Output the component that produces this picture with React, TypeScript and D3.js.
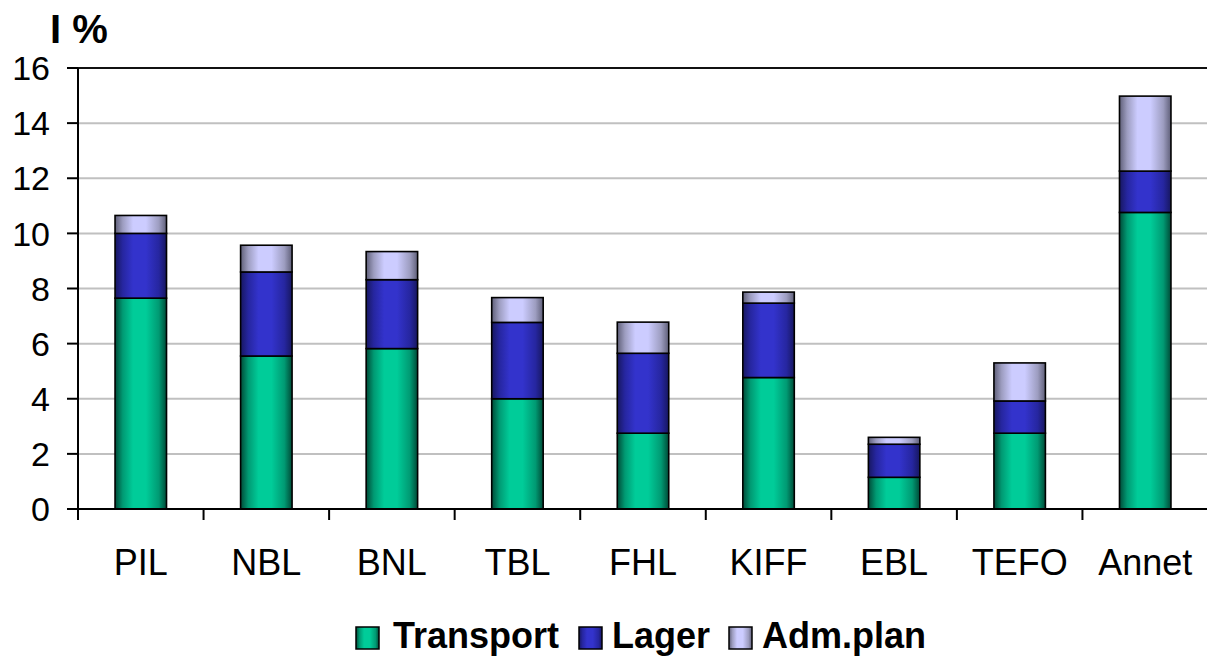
import React from "react";
import * as d3 from "d3";

const categories = ["PIL", "NBL", "BNL", "TBL", "FHL", "KIFF", "EBL", "TEFO", "Annet"];
const transport = [7.65, 5.55, 5.82, 4.0, 2.75, 4.77, 1.15, 2.75, 10.76];
const lager = [2.35, 3.05, 2.5, 2.77, 2.9, 2.7, 1.2, 1.17, 1.5];
const admPlan = [0.65, 0.97, 1.02, 0.9, 1.13, 0.4, 0.25, 1.38, 2.72];
const yTicks = [0, 2, 4, 6, 8, 10, 12, 14, 16];
const seriesNames = ["Transport", "Lager", "Adm.plan"];

const gradients = [
  { id: "gTransport", edge: "#004a37", mid: "#009a73", center: "#00cc99" },
  { id: "gLager", edge: "#171760", mid: "#2626a0", center: "#3333cc" },
  { id: "gAdm", edge: "#5f5f78", mid: "#9d9dc0", center: "#ccccff" },
];

export default function App() {
  const W = 1207, H = 657;
  const left = 78, right = 1208, top = 68, bottom = 509;
  const x = d3.scaleBand<string>().domain(categories).range([left, right]).padding(0);
  const y = d3.scaleLinear().domain([0, 16]).range([bottom, top]);
  const barW = x.bandwidth() * 0.41;
  const series = [transport, lager, admPlan];
  const font = "'Liberation Sans', Arial, sans-serif";

  const stackedData = categories.map((c, i) => {
    let acc = 0;
    return series.map((s, k) => {
      const y0 = acc;
      acc += s[i];
      return { c, k, y0, y1: acc };
    });
  });

  const legendItems = [
    { x: 356, tx: 393 },
    { x: 579, tx: 612 },
    { x: 729, tx: 762 },
  ];

  return (
    <svg width={W} height={H} style={{ position: "absolute", left: 0, top: 0, background: "#fff" }}>
      <defs>
        {gradients.map((g) => (
          <linearGradient key={g.id} id={g.id} x1="0" x2="1" y1="0" y2="0">
            <stop offset="0" stopColor={g.edge} />
            <stop offset="0.15" stopColor={g.mid} />
            <stop offset="0.35" stopColor={g.center} />
            <stop offset="0.6" stopColor={g.center} />
            <stop offset="0.85" stopColor={g.mid} />
            <stop offset="1" stopColor={g.edge} />
          </linearGradient>
        ))}
      </defs>
      {yTicks.filter((t) => t > 0 && t < 16).map((t) => (
        <line key={t} x1={left} x2={right} y1={y(t)} y2={y(t)} stroke="#c0c0c0" strokeWidth={2} />
      ))}
      <line x1={left} x2={right} y1={y(16)} y2={y(16)} stroke="#111" strokeWidth={2} />
      {stackedData.map((segs) =>
        segs.map((s) => (
          <rect
            key={s.c + s.k}
            x={(x(s.c) as number) + (x.bandwidth() - barW) / 2}
            y={y(s.y1)}
            width={barW}
            height={y(s.y0) - y(s.y1)}
            fill={`url(#${gradients[s.k].id})`}
            stroke="#000"
            strokeWidth={1.6}
          />
        ))
      )}
      <line x1={left} x2={left} y1={top} y2={bottom + 11} stroke="#000" strokeWidth={2} />
      {yTicks.map((t) => (
        <g key={t}>
          <line x1={left - 11} x2={left} y1={y(t)} y2={y(t)} stroke="#000" strokeWidth={2} />
          <text x={50} y={y(t)} dy="0.36em" textAnchor="end" fontFamily={font} fontSize={34} fill="#000">
            {t}
          </text>
        </g>
      ))}
      <line x1={left - 11} x2={right} y1={bottom} y2={bottom} stroke="#000" strokeWidth={2} />
      {categories.map((c, i) => (
        <g key={c}>
          {i > 0 && (
            <line x1={x(c)} x2={x(c)} y1={bottom} y2={bottom + 11} stroke="#000" strokeWidth={2} />
          )}
          <text
            x={(x(c) as number) + x.bandwidth() / 2}
            y={575}
            textAnchor="middle"
            fontFamily={font}
            fontSize={36}
            fill="#000"
          >
            {c}
          </text>
        </g>
      ))}
      <text x={50} y={43} fontFamily={font} fontSize={40} fontWeight="bold" fill="#000">
        I %
      </text>
      {seriesNames.map((n, k) => (
        <g key={n}>
          <rect
            x={legendItems[k].x}
            y={627}
            width={23}
            height={22}
            fill={`url(#${gradients[k].id})`}
            stroke="#000"
            strokeWidth={1.5}
          />
          <text x={legendItems[k].tx} y={648} fontFamily={font} fontSize={36} fontWeight="bold" fill="#000">
            {n}
          </text>
        </g>
      ))}
    </svg>
  );
}
